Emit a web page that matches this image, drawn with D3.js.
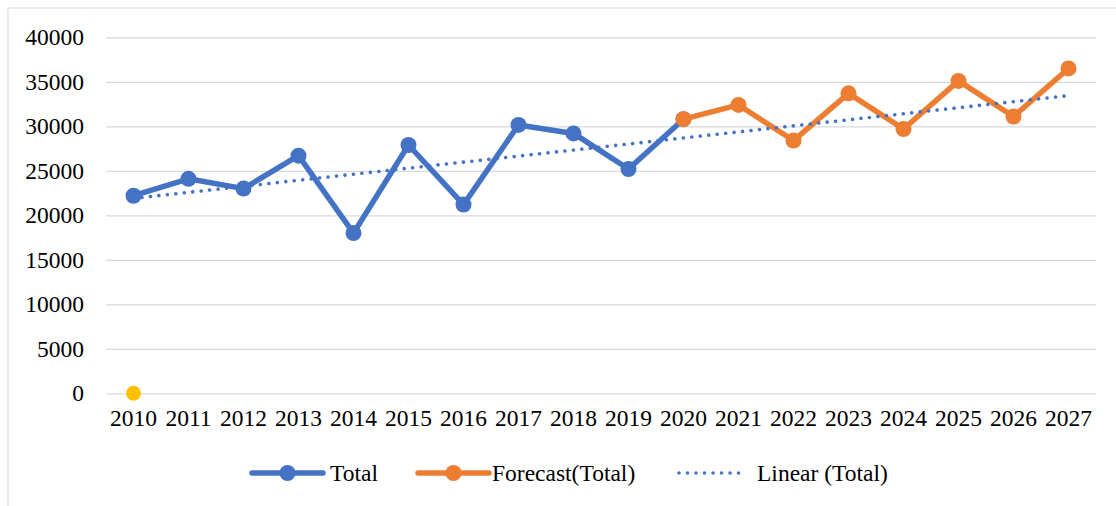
<!DOCTYPE html>
<html><head><meta charset="utf-8">
<script src="https://cdn.jsdelivr.net/npm/d3@7"></script>
<style>
html,body{margin:0;padding:0;background:#fff;}
svg{display:block;}
text{font-family:"Liberation Serif","Times New Roman",serif;fill:#000;}
</style></head>
<body>
<svg id="chart" width="1116" height="506"></svg>
<script>
const years = ["2010","2011","2012","2013","2014","2015","2016","2017","2018","2019","2020","2021","2022","2023","2024","2025","2026","2027"];
const totalYears = ["2010","2011","2012","2013","2014","2015","2016","2017","2018","2019","2020"];
const totalValues = [22200,24100,23000,26700,18000,27900,21200,30150,29200,25200,30800];
const forecastYears = ["2020","2021","2022","2023","2024","2025","2026","2027"];
const forecastValues = [30800,32400,28400,33700,29700,35100,31100,36500];
const trendYears = ["2010","2027"];
const trendValues = [21900,33450];
const extraYears = ["2010"];
const extraValues = [0];
const yTicks = [0,5000,10000,15000,20000,25000,30000,35000,40000];

const svg = d3.select("#chart");
const W = 1116, H = 506;
const blue = "#4472C4", orange = "#ED7D31", yellow = "#FFC000", grid = "#d9d9d9";

svg.append("rect").attr("x", 8).attr("y", 8).attr("width", W + 20).attr("height", H + 20)
  .attr("fill", "none").attr("stroke", "#d9d9d9").attr("stroke-width", 1);

const x = d3.scaleBand().domain(years).range([106, 1096]);
const y = d3.scaleLinear().domain([0, 40000]).range([393.3, 37.3]);
const cx = d => x(d) + x.bandwidth() / 2;

const yAxis = d3.axisLeft(y).tickValues(yTicks).tickSize(-(1096 - 106)).tickPadding(22).tickFormat(d3.format("d"));
const gy = svg.append("g").attr("transform", "translate(106,0)").call(yAxis);
gy.select(".domain").remove();
gy.selectAll(".tick line").attr("stroke", grid).attr("stroke-width", 1.3);
gy.selectAll(".tick text").attr("font-size", 23.5).attr("font-family", "Liberation Serif").attr("fill", "#000");

const xAxis = d3.axisBottom(x).tickSize(0).tickPadding(16);
const gx = svg.append("g").attr("transform", "translate(0,393.3)").call(xAxis);
gx.select(".domain").remove();
gx.selectAll(".tick text").attr("font-size", 23.5).attr("font-family", "Liberation Serif").attr("fill", "#000");

const line = d3.line().x(d => cx(d[0])).y(d => y(d[1]));

const totalData = d3.zip(totalYears, totalValues);
const fcData = d3.zip(forecastYears, forecastValues);
const trendData = d3.zip(trendYears, trendValues);

svg.append("path").datum(totalData).attr("d", line).attr("fill", "none")
  .attr("stroke", blue).attr("stroke-width", 5.5).attr("stroke-linejoin", "round").attr("stroke-linecap", "round");
svg.append("g").selectAll("circle").data(totalData).join("circle")
  .attr("cx", d => cx(d[0])).attr("cy", d => y(d[1])).attr("r", 8).attr("fill", blue);

svg.append("path").datum(fcData).attr("d", line).attr("fill", "none")
  .attr("stroke", orange).attr("stroke-width", 5.5).attr("stroke-linejoin", "round").attr("stroke-linecap", "round");
svg.append("g").selectAll("circle").data(fcData).join("circle")
  .attr("cx", d => cx(d[0])).attr("cy", d => y(d[1])).attr("r", 8).attr("fill", orange);

svg.append("path").datum(trendData).attr("d", line).attr("fill", "none")
  .attr("stroke", blue).attr("stroke-width", 3.6).attr("stroke-linecap", "round")
  .attr("stroke-dasharray", "0.01,8.5");

svg.append("g").selectAll("circle").data(d3.zip(extraYears, extraValues)).join("circle")
  .attr("cx", d => cx(d[0])).attr("cy", d => y(d[1])).attr("r", 7.5).attr("fill", yellow);

const lg = svg.append("g");
const ly = 473;
const items = [
  {name: "Total", x0: 252, x1: 323, color: blue, marker: true, dotted: false, tx: 330},
  {name: "Forecast(Total)", x0: 418, x1: 489, color: orange, marker: true, dotted: false, tx: 492},
  {name: "Linear (Total)", x0: 679, x1: 742, color: blue, marker: false, dotted: true, tx: 757}
];
items.forEach(it => {
  const l = lg.append("line").attr("x1", it.x0).attr("x2", it.x1).attr("y1", ly).attr("y2", ly)
    .attr("stroke", it.color).attr("stroke-linecap", "round");
  if (it.dotted) l.attr("stroke-width", 3.6).attr("stroke-dasharray", "0.01,8.5");
  else l.attr("stroke-width", 5.5);
  if (it.marker) lg.append("circle").attr("cx", (it.x0 + it.x1) / 2).attr("cy", ly).attr("r", 8).attr("fill", it.color);
  lg.append("text").attr("x", it.tx).attr("y", ly + 8).attr("font-size", 23.5).text(it.name);
});
</script>
</body></html>
